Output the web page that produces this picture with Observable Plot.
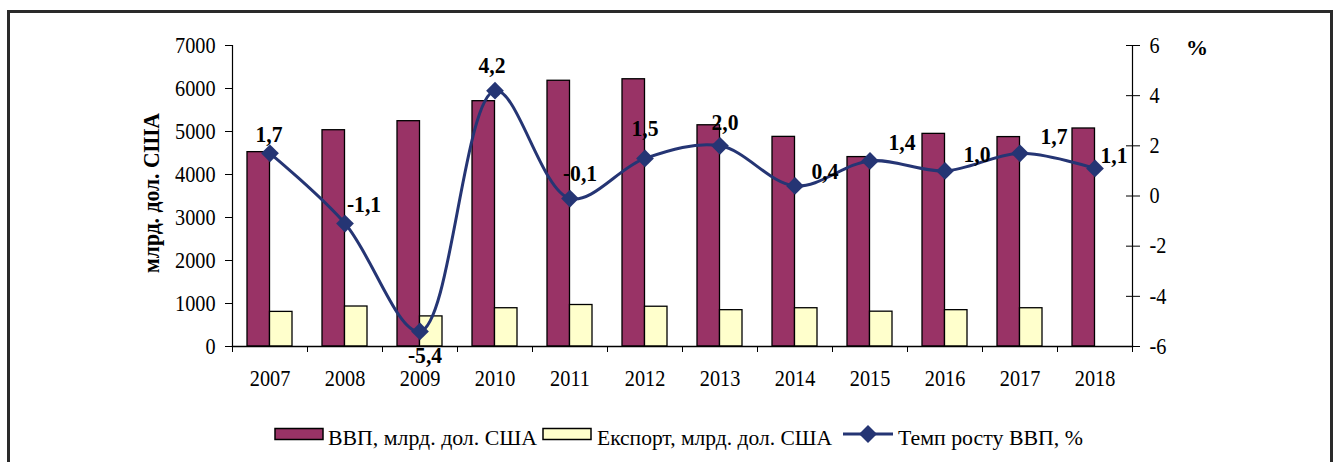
<!DOCTYPE html>
<html>
<head>
<meta charset="utf-8">
<script src="https://cdn.jsdelivr.net/npm/d3@7"></script>
<script src="https://cdn.jsdelivr.net/npm/@observablehq/plot@0.6"></script>
<style>
  html, body { margin: 0; padding: 0; background: #fff; width: 1340px; height: 462px; overflow: hidden; }
  #wrap { position: relative; width: 1340px; height: 462px; font-family: "Liberation Serif", "Times New Roman", serif; }
  #border { position: absolute; left: 7px; top: 10px; width: 1326px; height: 470px; border: 3px solid #2a2a2a; box-sizing: border-box; }
  #chart { position: absolute; left: 0; top: 0; }
  #overlay { position: absolute; left: 0; top: 0; }
</style>
</head>
<body>
<div id="wrap">
  <div id="border"></div>
  <div id="chart"></div>
  <svg id="overlay" width="1340" height="462"></svg>
</div>
<script>
const years = ["2007","2008","2009","2010","2011","2012","2013","2014","2015","2016","2017","2018"];
const gdp = [4520, 5030, 5240, 5705, 6180, 6215, 5145, 4875, 4405, 4945, 4870, 5070];
const exportVals = [805, 930, 700, 890, 965, 925, 845, 890, 810, 845, 890, null];
const growth = [1.7, -1.1, -5.4, 4.2, -0.1, 1.5, 2.0, 0.4, 1.4, 1.0, 1.7, 1.1];
const leftTicks = [0, 1000, 2000, 3000, 4000, 5000, 6000, 7000];
const rightTicks = [-6, -4, -2, 0, 2, 4, 6];
const seriesNames = ["ВВП, млрд. дол. США", "Експорт, млрд. дол. США", "Темп росту ВВП, %"];
const yTitle = "млрд. дол. США";
const rightTitle = "%";

// label nudges (dx, dy) for the data labels
const labelNudge = [[-1,-19],[19,-19],[5,24],[-3,-25],[10,-25],[0,-30],[5,-24],[30,-15],[32,-19],[32,-17],[34,-17],[19,-13]];

const colGdp = "#993366", colExp = "#FFFFCC", colLine = "#253574";
const Y_MAX = 7000, R_MIN = -6, R_MAX = 6;
const toLeft = g => (g - R_MIN) / (R_MAX - R_MIN) * Y_MAX;
const fromLeft = v => Math.round(v / Y_MAX * (R_MAX - R_MIN) + R_MIN);

const rows = years.map((y, i) => ({i, year: y, gdp: gdp[i], exp: exportVals[i], g: growth[i]}));
const fmt = v => v.toFixed(1).replace(".", ",");

const labelMarks = rows.map((d, k) => Plot.text([d], {
  x: r => r.i + 0.5, y: r => toLeft(r.g), text: r => fmt(r.g),
  dx: labelNudge[k][0], dy: labelNudge[k][1],
  fontSize: 24, fontWeight: "bold", fill: "#000"
}));

const chart = Plot.plot({
  width: 1340, height: 400,
  marginLeft: 232, marginRight: 208, marginTop: 45, marginBottom: 54,
  style: {fontFamily: "'Liberation Serif', 'Times New Roman', serif", fontSize: "22px", color: "#000", background: "transparent"},
  x: {type: "linear", domain: [0, 12], axis: null},
  y: {domain: [0, Y_MAX], axis: null},
  marks: [
    Plot.rectY(rows, {x1: d => d.i + 0.2, x2: d => d.i + 0.5, y: "gdp", fill: colGdp, stroke: "#000", strokeWidth: 1.3}),
    Plot.rectY(rows.filter(d => d.exp != null), {x1: d => d.i + 0.5, x2: d => d.i + 0.8, y: "exp", fill: colExp, stroke: "#000", strokeWidth: 1.3}),
    Plot.frame({anchor: "left", stroke: "#000", strokeWidth: 1.2}),
    Plot.frame({anchor: "right", stroke: "#000", strokeWidth: 1.2}),
    Plot.frame({anchor: "bottom", stroke: "#000", strokeWidth: 1.5}),
    Plot.axisY(leftTicks, {anchor: "left", tickSize: 7, tickPadding: 10, fontSize: 22.5, tickFormat: d => String(d)}),
    Plot.axisY(rightTicks.map(toLeft), {anchor: "right", tickSize: 14, dx: -7, tickPadding: 10, fontSize: 22.5, tickFormat: d => String(fromLeft(d))}),
    Plot.axisX(d3.range(0, 13), {anchor: "bottom", tickSize: 6, tickFormat: () => ""}),
    Plot.axisX(rows.map(d => d.i + 0.5), {anchor: "bottom", tickSize: 0, tickPadding: 24, fontSize: 22.5, tickFormat: d => years[Math.floor(d)]}),
    Plot.line(rows, {x: d => d.i + 0.5, y: d => toLeft(d.g), curve: "catmull-rom", stroke: colLine, strokeWidth: 3}),
    Plot.dot(rows, {x: d => d.i + 0.5, y: d => toLeft(d.g), symbol: "diamond2", r: 8, fill: colLine, stroke: "none"}),
    ...labelMarks
  ]
});
document.getElementById("chart").appendChild(chart);

// condense chart text horizontally (reference glyphs are narrow and tall)
chart.querySelectorAll("text").forEach(t => {
  const len = t.getComputedTextLength();
  if (len > 0) { t.setAttribute("textLength", (len * 0.9).toFixed(1)); t.setAttribute("lengthAdjust", "spacingAndGlyphs"); }
});

// overlay: titles and legend
const ov = d3.select("#overlay").style("font-family", "'Liberation Serif', 'Times New Roman', serif");
ov.append("text").attr("transform", "translate(151,193) rotate(-90)")
  .attr("text-anchor", "middle").attr("dominant-baseline", "central")
  .attr("font-size", 23).attr("font-weight", "bold")
  .attr("textLength", 160).attr("lengthAdjust", "spacingAndGlyphs").text(yTitle);
ov.append("text").attr("x", 1197).attr("y", 47).attr("text-anchor", "middle").attr("dominant-baseline", "central")
  .attr("font-size", 22).attr("font-weight", "bold").text(rightTitle);

const lg = ov.append("g");
lg.append("rect").attr("x", 275).attr("y", 428.5).attr("width", 48).attr("height", 11).attr("fill", colGdp).attr("stroke", "#000").attr("stroke-width", 1.5);
lg.append("rect").attr("x", 543).attr("y", 428.5).attr("width", 48).attr("height", 11).attr("fill", colExp).attr("stroke", "#000").attr("stroke-width", 1.5);
lg.append("line").attr("x1", 843).attr("x2", 893).attr("y1", 434).attr("y2", 434).attr("stroke", colLine).attr("stroke-width", 3);
lg.append("path").attr("d", "M868,425L877,434L868,443L859,434Z").attr("fill", colLine);
const legendText = [[328, 209], [597, 235], [898, 185]];
seriesNames.forEach((s, k) => {
  lg.append("text").attr("x", legendText[k][0]).attr("y", 437).attr("dominant-baseline", "central")
    .attr("font-size", 22).attr("textLength", legendText[k][1]).attr("lengthAdjust", "spacingAndGlyphs").text(s);
});
</script>
</body>
</html>
